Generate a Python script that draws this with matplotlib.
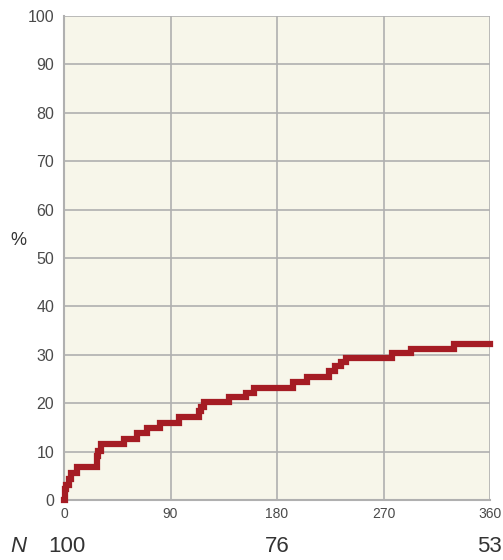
import matplotlib.pyplot as plt
from matplotlib import font_manager

# step points (day, cumulative %)
days = [0, 0.5, 2, 4, 6, 11, 27.5, 29, 31.5, 51, 61.5, 70, 81, 97.5,
        114, 116, 118.5, 139.5, 154, 160.5, 193.5, 205, 224, 229, 234, 238.5,
        277, 293, 329.5, 360]
pct = [0, 2.2, 3.2, 4.4, 5.5, 6.9, 9.0, 10.2, 11.5, 12.6, 13.8, 14.9, 16.0, 17.1,
       18.3, 19.2, 20.3, 21.3, 22.2, 23.1, 24.4, 25.5, 26.6, 27.6, 28.5, 29.3,
       30.3, 31.2, 32.2, 32.2]

x_ticks = [0, 90, 180, 270, 360]
y_ticks = list(range(0, 101, 10))
n_at_risk = ['100', '76', '53']
n_days = [0, 180, 360]

names = {f.name for f in font_manager.fontManager.ttflist}
font = 'Liberation Sans Narrow' if 'Liberation Sans Narrow' in names else 'Liberation Sans'
plt.rcParams['font.family'] = [font, 'DejaVu Sans']

fig = plt.figure(figsize=(5.03, 5.6), dpi=100)
ax = fig.add_axes([64 / 503, 1 - 500 / 560, 426 / 503, 484 / 560])
ax.set_facecolor('#f7f6ea')

ax.step(days, pct, where='post', color='#a51c24', linewidth=4.5,
        solid_joinstyle='miter', clip_on=False, zorder=3)

ax.set_xlim(0, 360)
ax.set_ylim(0, 100)
ax.set_xticks(x_ticks)
ax.set_yticks(y_ticks)
ax.grid(True, color='#b0b0b0', linewidth=1.2)
ax.tick_params(length=0, colors='#4a4a4a')
ax.tick_params(axis='y', labelsize=11.5, pad=7)
ax.tick_params(axis='x', labelsize=10, pad=5)
for s in ['top', 'right']:
    ax.spines[s].set_visible(False)
for s in ['left', 'bottom']:
    ax.spines[s].set_color('#b0b0b0')
    ax.spines[s].set_linewidth(1.5)

ax.set_ylabel('%', fontsize=13, color='#333333', rotation=0, va='center', ha='center')
ax.yaxis.set_label_coords(-0.108, 0.537)

# numbers at risk
fig.text(18 / 503, 1 - 546 / 560, 'N', fontsize=16, style='italic',
         color='#333333', ha='center', va='center')
n_pos = [(67, 'center'), (277, 'center'), (502, 'right')]
for (px, ha), n in zip(n_pos, n_at_risk):
    fig.text(px / 503, 1 - 546 / 560, n, fontsize=16, color='#333333',
             ha=ha, va='center')

fig.savefig('out.png', dpi=100)
